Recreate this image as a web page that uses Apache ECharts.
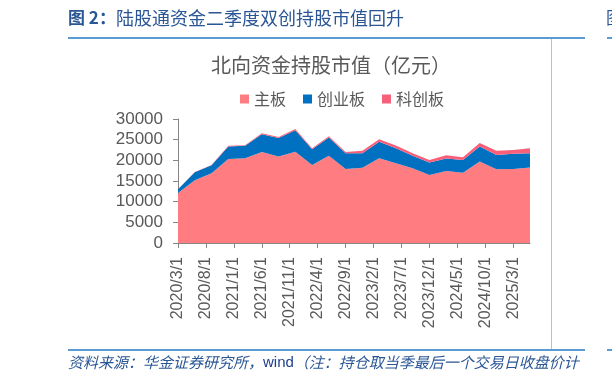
<!DOCTYPE html>
<html><head><meta charset="utf-8">
<script src="https://cdn.jsdelivr.net/npm/echarts@6/dist/echarts.min.js"></script>
<style>html,body{margin:0;padding:0;background:#fff}#c{width:612px;height:386px}</style>
</head><body><div id="c"></div>
<script>
// Quarter-end observation dates (the axis is monthly, labels every 5 months)
const categories = ["2020/3/1","2020/6/1","2020/9/1","2020/12/1","2021/3/1","2021/6/1","2021/9/1","2021/12/1",
  "2022/3/1","2022/6/1","2022/9/1","2022/12/1","2023/3/1","2023/6/1","2023/9/1","2023/12/1",
  "2024/3/1","2024/6/1","2024/9/1","2024/12/1","2025/3/1","2025/6/1"];
const mainBoard = [12100,15200,16900,20350,20500,22000,20900,22100,18900,21100,17900,18200,20500,19300,18100,16450,17400,17000,19700,17850,17900,18250];
const chiNext   = [900,1900,1900,3000,3000,4300,4500,5200,3800,4400,3800,3500,4000,3650,3000,3000,3050,3100,3650,3450,3700,3450];
const star      = [0,100,100,150,150,250,250,300,250,300,300,600,600,650,600,650,800,650,850,1000,900,1250];
const tickLabels = ["2020/3/1","2020/8/1","2021/1/1","2021/6/1","2021/11/1","2022/4/1","2022/9/1","2023/2/1","2023/7/1","2023/12/1","2024/5/1","2024/10/1","2025/3/1"];
const seriesNames = ["主板","创业板","科创板"];
const yTicks = [0,5000,10000,15000,20000,25000,30000];

function monthIdx(s){const p=s.split('/');return (+p[0]-2020)*12+(+p[1]-3);}
// monthly axis slots from first to last observation
const nMonths = monthIdx(categories[categories.length-1]) + 1;
const months = [];
for (let i=0;i<nMonths;i++){const y=2020+Math.floor((i+2)/12), m=(i+2)%12+1; months.push(y+'/'+m+'/1');}
const labelSet = new Set(tickLabels);
const mk = arr => arr.map((v,i)=>[monthIdx(categories[i]), v]);

const CJK = '"Noto Sans CJK SC", sans-serif';
const LAT = '"Liberation Sans", Arial, sans-serif';
const colors = ['#FF7C80','#0070C0','#F8607A'];

const chart = echarts.init(document.getElementById('c'), null, {renderer:'canvas'});
chart.setOption({
  animation:false,
  color: colors,
  title:{text:'北向资金持股市值（亿元）', left:326, textAlign:'center', top:50,
    textStyle:{fontFamily:CJK, fontSize:20, fontWeight:'normal', color:'#595959'}},
  legend:{top:86, left:235, itemWidth:9, itemHeight:9, itemGap:17, icon:'rect',
    data:seriesNames,
    textStyle:{fontFamily:CJK, fontSize:16, color:'#595959'}},
  grid:{left:178, right:82, top:119, bottom:143},
  xAxis:{type:'category', data:months, boundaryGap:false,
    splitLine:{show:false},
    axisLine:{lineStyle:{color:'#868686'}},
    axisTick:{length:5, lineStyle:{color:'#868686'}, interval:(i,v)=>labelSet.has(v)},
    axisLabel:{interval:(i,v)=>labelSet.has(v), rotate:90, margin:14, fontFamily:LAT, fontSize:16, color:'#595959'}},
  yAxis:{type:'value', min:yTicks[0], max:yTicks[yTicks.length-1], interval:5000,
    splitLine:{show:false},
    axisLine:{show:true, lineStyle:{color:'#868686'}},
    axisTick:{show:true, length:5, lineStyle:{color:'#868686'}},
    axisLabel:{margin:15, fontFamily:LAT, fontSize:17, color:'#595959', formatter:v=>String(v)}},
  series:[mainBoard, chiNext, star].map((d,i)=>({
    name:seriesNames[i], type:'line', stack:'total', data:mk(d), symbol:'none',
    lineStyle:{width:0}, areaStyle:{color:colors[i], opacity:1}, itemStyle:{color:colors[i]}
  })),
  graphic:[
    {type:'text', left:68, top:9, style:{text:'{b|图 2：}陆股通资金二季度双创持股市值回升', fontFamily:CJK, fontSize:18, fill:'#2A5696',
      rich:{b:{fontFamily:CJK, fontSize:17, fontWeight:'bold', fill:'#2A5696'}}}},
    {type:'rect', shape:{x:68, y:37, width:517, height:2}, style:{fill:'#5B9BD5'}},
    {type:'rect', shape:{x:607, y:37, width:5, height:2}, style:{fill:'#5B9BD5'}},
    {type:'text', left:606, top:9, style:{text:'图', fontFamily:CJK, fontSize:17, fill:'#2A5696'}},
    {type:'line', shape:{x1:551.5, y1:39, x2:551.5, y2:350}, style:{stroke:'#BFBFBF', lineWidth:1}},
    {type:'rect', shape:{x:68, y:349, width:517, height:2}, style:{fill:'#5B9BD5'}},
    {type:'rect', shape:{x:607, y:349, width:5, height:2}, style:{fill:'#5B9BD5'}},
    {type:'text', left:68, top:355, style:{text:'资料来源：华金证券研究所，{w|wind}（注：持仓取当季最后一个交易日收盘价计',
      fontFamily:CJK, fontSize:15, fontStyle:'italic', fill:'#2A5696',
      rich:{w:{fontFamily:LAT, fontSize:15, fontStyle:'normal', fill:'#1F3F8C'}}}}
  ]
});
</script></body></html>
